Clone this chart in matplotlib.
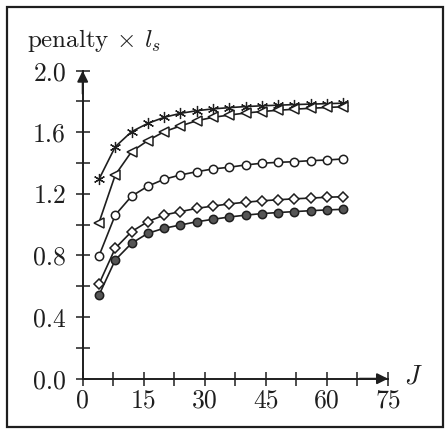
import matplotlib
matplotlib.use("Agg")
import matplotlib.pyplot as plt
from matplotlib.patches import Rectangle

plt.rcParams["font.family"] = ["cmr10", "DejaVu Serif"]
plt.rcParams["mathtext.fontset"] = "cm"

J = [4, 8, 12, 16, 20, 24, 28, 32, 36, 40, 44, 48, 52, 56, 60, 64]

stars = [1.295, 1.506, 1.604, 1.658, 1.697, 1.723, 1.740, 1.752,
         1.760, 1.767, 1.772, 1.776, 1.780, 1.783, 1.786, 1.789]
triangles = [1.013, 1.323, 1.474, 1.546, 1.604, 1.641, 1.675, 1.697,
             1.712, 1.725, 1.735, 1.743, 1.750, 1.756, 1.761, 1.766]
circles = [0.797, 1.063, 1.185, 1.250, 1.295, 1.323, 1.344, 1.362,
           1.373, 1.388, 1.399, 1.405, 1.409, 1.416, 1.420, 1.427]
diamonds = [0.615, 0.847, 0.955, 1.020, 1.063, 1.085, 1.106, 1.121,
            1.135, 1.146, 1.155, 1.162, 1.168, 1.173, 1.178, 1.182]
dots = [0.543, 0.771, 0.879, 0.944, 0.977, 0.998, 1.019, 1.035,
        1.050, 1.062, 1.072, 1.079, 1.085, 1.091, 1.096, 1.100]

x_labels = ["0", "15", "30", "45", "60", "75"]
y_labels = ["0.0", "0.4", "0.8", "1.2", "1.6", "2.0"]

ink = "#1e1e1e"

fig = plt.figure(figsize=(4.46, 4.30), dpi=100)
ax = fig.add_axes([0.1854, 0.1193, 0.6846, 0.7163])

common = dict(color=ink, lw=1.2, mec=ink, clip_on=False)
ax.plot(J, stars, marker=(6, 2, 0), ms=8, mew=0.9, **common)
ax.plot(J, triangles, marker="<", ms=7.5, mew=1.1, mfc="white", **common)
ax.plot(J, circles, marker="o", ms=6, mew=1.1, mfc="white", **common)
ax.plot(J, diamonds, marker="D", ms=5, mew=1.1, mfc="white", **common)
ax.plot(J, dots, marker="o", ms=6, mew=1.1, mfc="#555555", **common)

ax.set_xlim(0, 75)
ax.set_ylim(0, 2.0)
for side in ("top", "right"):
    ax.spines[side].set_visible(False)
for side in ("left", "bottom"):
    ax.spines[side].set_linewidth(1.4)
    ax.spines[side].set_color(ink)

ax.set_xticks([0, 15, 30, 45, 60, 75], x_labels)
ax.set_xticks([7.5, 22.5, 37.5, 52.5, 67.5], minor=True)
ax.set_yticks([0.0, 0.4, 0.8, 1.2, 1.6, 2.0], y_labels)
ax.set_yticks([0.2, 0.6, 1.0, 1.4, 1.8], minor=True)
ax.tick_params(which="both", direction="inout", length=10, width=1.1,
               color=ink, labelsize=18.5, labelcolor=ink)
ax.tick_params(axis="x", which="both", pad=2)
ax.tick_params(axis="y", which="both", pad=7)

# arrow heads at the ends of both axes
arrow = dict(arrowstyle="-|>", color=ink, lw=1.4, mutation_scale=16,
             shrinkA=0, shrinkB=0)
ax.annotate("", xy=(75, 0), xytext=(68, 0), arrowprops=arrow,
            annotation_clip=False)
ax.annotate("", xy=(0, 2.0), xytext=(0, 1.85), arrowprops=arrow,
            annotation_clip=False)

fig.text(27 / 446, 1 - 47 / 430, r"penalty $\times$ $l_s$",
         fontsize=18, color=ink, va="baseline", ha="left")
fig.text(404 / 446, 1 - 384 / 430, r"$J$", fontsize=19, color=ink,
         va="baseline", ha="left")

fig.patches.append(Rectangle((7 / 446, 3 / 430), 436 / 446, 420 / 430,
                             transform=fig.transFigure, fill=False,
                             edgecolor=ink, lw=1.6))

fig.savefig("out.png", dpi=100)
